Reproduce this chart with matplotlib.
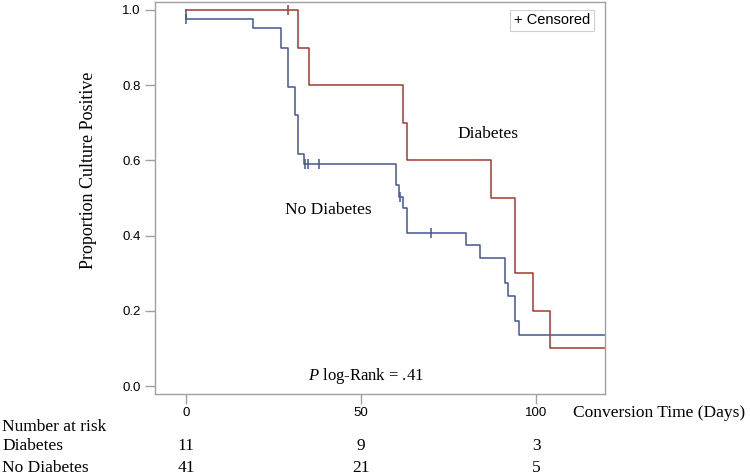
import matplotlib
matplotlib.use("Agg")
import matplotlib.pyplot as plt
import matplotlib.transforms as mtransforms

# Kaplan-Meier steps (time in days, proportion positive)
diab_times = [0, 32, 35, 62, 63, 87, 94, 99, 104, 120]
diab_surv = [1.0, 0.90, 0.80, 0.70, 0.60, 0.50, 0.30, 0.20, 0.10, 0.10]
diab_cens_t = [29]
diab_cens_s = [1.0]

nodiab_times = [0, 0, 19, 27, 29, 31, 32, 33.6, 60, 60.7, 62, 63, 80, 84, 91, 92, 94, 95, 120]
nodiab_surv = [1.0, 0.976, 0.951, 0.898, 0.796, 0.720, 0.617, 0.591, 0.534, 0.503,
               0.472, 0.408, 0.376, 0.341, 0.275, 0.238, 0.173, 0.136, 0.136]
nodiab_cens_t = [0, 34, 34.8, 38, 61.2, 70]
nodiab_cens_s = [0.976, 0.591, 0.591, 0.591, 0.503, 0.408]

# number at risk table
risk_times = [0, 50, 100]
risk_diab = [11, 9, 3]
risk_nodiab = [41, 21, 5]

blue = "#445694"
red = "#A23A2E"
grey = "#a0a0a0"
serif = "Liberation Serif"
sans = "Liberation Sans"

plt.rcParams["mathtext.fontset"] = "custom"
plt.rcParams["mathtext.it"] = "Liberation Serif:italic"
plt.rcParams["mathtext.rm"] = "Liberation Serif"

fig = plt.figure(figsize=(7.5, 4.75), dpi=100)
ax = fig.add_axes([0.2067, 0.1705, 0.6, 0.8253])

ax.step(nodiab_times, nodiab_surv, where="post", color=blue, lw=1.1)
ax.step(diab_times, diab_surv, where="post", color=red, lw=1.1)
ax.plot(nodiab_cens_t, nodiab_cens_s, ls="none", marker="|", ms=7, mew=1.1, color=blue)
ax.plot(diab_cens_t, diab_cens_s, ls="none", marker="|", ms=7, mew=1.1, color=red)

ax.set_xlim(-8.86, 119.7)
ax.set_ylim(-0.0213, 1.021)
ax.set_xticks(risk_times)
ax.set_yticks([0.0, 0.2, 0.4, 0.6, 0.8, 1.0])
ax.set_yticklabels(["0.0", "0.2", "0.4", "0.6", "0.8", "1.0"])
ax.set_xticklabels([])
for s in ax.spines.values():
    s.set_color(grey)
    s.set_linewidth(1.0)
ax.tick_params(axis="both", colors=grey, length=7, width=1.0, direction="out")
for lab in ax.get_yticklabels():
    lab.set_color("black")
    lab.set_fontfamily(sans)
    lab.set_fontsize(9.5)

# curve labels and p-value
ax.text(86.2, 0.67, "Diabetes", family=serif, fontsize=12.5, ha="center", va="center")
ax.text(40.7, 0.468, "No Diabetes", family=serif, fontsize=12.5, ha="center", va="center")
ax.text(51.4, 0.027, r"$P$ log-Rank = .41", family=serif, fontsize=12,
        ha="center", va="center")
ax.text(0.882, 0.953, "+ Censored", transform=ax.transAxes, family=sans, fontsize=10.5,
        ha="center", va="center",
        bbox=dict(boxstyle="square,pad=0.25", fc="white", ec="#d0d0d0", lw=0.8))

ax.set_ylabel("Proportion Culture Positive", family=serif, fontsize=13)
ax.yaxis.set_label_coords(0.129, 0.642, transform=fig.transFigure)

# x tick labels and at-risk table under the axis
tr = mtransforms.blended_transform_factory(ax.transData, fig.transFigure)
for t, a, b in zip(risk_times, risk_diab, risk_nodiab):
    fig.text(t, 0.1305, str(t), transform=tr, family=sans, fontsize=9.5, ha="center", va="center")
    fig.text(t, 0.060, str(a), transform=tr, family=serif, fontsize=12.5, ha="center", va="center")
    fig.text(t, 0.0147, str(b), transform=tr, family=serif, fontsize=12.5, ha="center", va="center")

fig.text(0.764, 0.1305, "Conversion Time (Days)", family=serif, fontsize=12.5, ha="left", va="center")
fig.text(0.003, 0.1017, "Number at risk", family=serif, fontsize=12.5, ha="left", va="center")
fig.text(0.003, 0.060, "Diabetes", family=serif, fontsize=12.5, ha="left", va="center")
fig.text(0.003, 0.0147, "No Diabetes", family=serif, fontsize=12.5, ha="left", va="center")

fig.savefig("out.png", dpi=100)
